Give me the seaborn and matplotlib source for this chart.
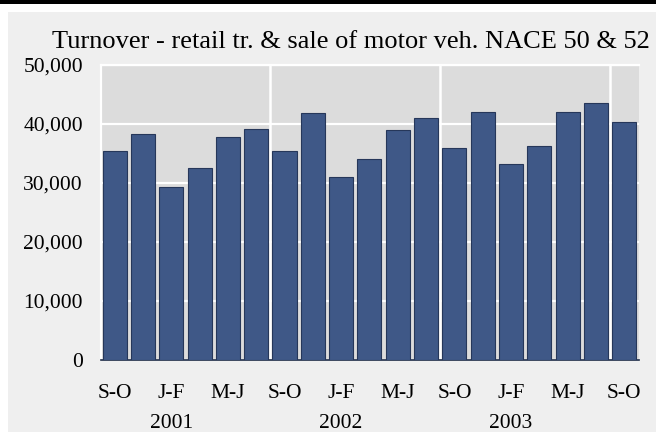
import pandas as pd
import matplotlib
matplotlib.use("Agg")
import matplotlib.pyplot as plt
import seaborn as sns
from matplotlib.patches import Rectangle

# bimonthly periods, Sep-Oct 2000 .. Sep-Oct 2003
periods = ["S-O", "N-D", "J-F", "M-A", "M-J", "J-A",
           "S-O", "N-D", "J-F", "M-A", "M-J", "J-A",
           "S-O", "N-D", "J-F", "M-A", "M-J", "J-A",
           "S-O"]
turnover = [35400, 38300, 29300, 32500, 37800, 39100,
            35400, 41900, 31000, 34100, 38900, 41100,
            36000, 42100, 33300, 36200, 42000, 43500,
            40400]
years = ["2001", "2002", "2003"]
year_pos = [2, 8, 14]

title = "Turnover - retail tr. & sale of motor veh. NACE 50 & 52"

df = pd.DataFrame({"idx": [str(i) for i in range(len(periods))],
                   "period": periods,
                   "turnover": turnover})

sns.set_theme(style="white")
plt.rcParams["font.family"] = ["Liberation Serif", "DejaVu Serif"]

W, H = 656, 432
fig = plt.figure(figsize=(W / 100, H / 100), dpi=100, facecolor="white")

# frame decorations: black band on top, light grey panel
fig.patches.append(Rectangle((0, 1 - 4 / H), 1, 4 / H, transform=fig.transFigure,
                             facecolor="black", edgecolor="none", zorder=-5))
fig.patches.append(Rectangle((8 / W, 0), 1 - 8 / W, 1 - 12 / H, transform=fig.transFigure,
                             facecolor="#efefef", edgecolor="none", zorder=-5))

ax = fig.add_axes([101 / W, (H - 360) / H, 538 / W, 295 / H])
ax.set_zorder(2)
ax.set_facecolor("#dcdcdc")

sns.barplot(data=df, x="idx", y="turnover", order=df["idx"].tolist(),
            color="#3f5887", saturation=1, width=0.85,
            edgecolor="#26375a", linewidth=0.8, ax=ax, zorder=3)

ax.set_xlim(-0.48, len(periods) - 0.48)
ax.set_ylim(0, 50000)
ax.set_yticks(range(0, 50001, 10000))
ax.set_yticklabels([f"{v:,}" for v in range(0, 50001, 10000)])
ax.yaxis.grid(True, color="white", linewidth=1.6, zorder=1)
for xv in [5.5, 11.5, 17.5]:
    ax.axvline(xv, color="white", linewidth=1.8, zorder=1)
ax.set_axisbelow(True)

ticks = list(range(0, len(periods), 2))
ax.set_xticks(ticks)
ax.set_xticklabels([periods[i] for i in ticks])
ax.set_xlabel("")
ax.set_ylabel("")
ax.tick_params(axis="both", length=0, labelsize=15.5, colors="black")
ax.tick_params(axis="x", pad=17)
ax.tick_params(axis="y", pad=13)

for s in ["top", "left"]:
    ax.spines[s].set_color("white")
    ax.spines[s].set_linewidth(1.6)
ax.spines["right"].set_visible(False)
ax.spines["bottom"].set_color("#1e2c48")
ax.spines["bottom"].set_linewidth(1.2)

for y, p in zip(years, year_pos):
    ax.text(p, -0.216, y, transform=ax.get_xaxis_transform(),
            ha="center", va="center", fontsize=15.5, color="black")

fig.text(351 / W, 1 - 42 / H, title, ha="center", va="center", fontsize=19, color="black")

fig.savefig("out.png", dpi=100, facecolor=fig.get_facecolor())
